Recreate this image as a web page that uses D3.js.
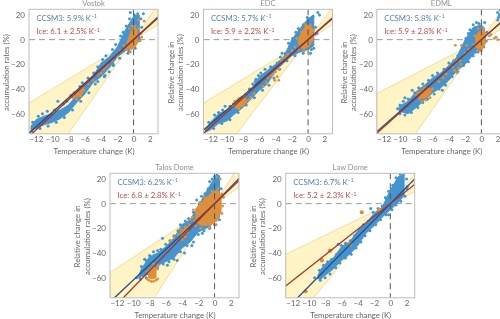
<!DOCTYPE html>
<html>
<head>
<meta charset="utf-8">
<script src="https://cdn.jsdelivr.net/npm/d3@7"></script>
<style>
html, body { margin: 0; padding: 0; background: #fff; overflow: hidden; }
text { font-family: Lato, "Open Sans", sans-serif; }
svg { filter: blur(0.3px); }
</style>
</head>
<body>
<div id="chart"></div>
<script>
var xTicks = [-12, -10, -8, -6, -4, -2, 0, 2];
var yTicks = [-60, -40, -20, 0, 20];

// the dense clouds are read as low/high extents, loose and edge points as dots
var vostokBlueX = [-12.6, -12, -11, -10, -9, -8, -7, -6, -5, -4, -3, -2, -1, 0, 0.7];
var vostokBlueLow = [-73, -72, -69, -67, -64, -59, -51, -44, -35, -30, -23, -14, -9, -6, -1];
var vostokBlueHigh = [-70, -65, -62, -60, -57, -53, -45, -37, -30, -19, -14, -6, 8, 19, 20];
var vostokBlueDots = [[-9.3, -50], [-10.4, -63], [-4.9, -27], [-4.4, -34], [-3.6, -30], [-0.4, 22], [0.5, 21], [1.2, 21], [-1.6, 3], [-2.5, -21], [-7.3, -43], [-0.6, -9],
    [-12.4, -67], [-11.7, -62], [-11.2, -60], [-10.6, -58], [-9.7, -57], [-8.6, -52], [-8.2, -50], [-7.6, -46], [-6.6, -38], [-6.3, -35], [-5.6, -31], [-4.4, -22], [-3.8, -16], [-3.4, -13], [-2.6, -8], [-2.2, -4], [-1.3, 6], [-0.9, 11], [-0.5, 17], [0.1, 20], [0.9, 17],
    [-12.5, -74], [-11.5, -72], [-10.5, -70], [-9.5, -67], [-8.5, -63], [-7.5, -57], [-6.5, -50], [-5.5, -43], [-4.7, -36], [-3.5, -29], [-3, -26], [-2.5, -20], [-1.7, -15], [-0.7, -11], [0.2, -7], [0.7, 1], [1, 10]];
var vostokOrangeX = [-7.3, -6.8, -6.3, null, -0.8, -0.3, 0.2, 0.5];
var vostokOrangeLow = [-46, -46, -44, null, -7, -8, -6, -2];
var vostokOrangeHigh = [-44, -41, -40, null, -2, 7, 10, 7];
var vostokOrangeDots = [[-7.7, -45], [-7.4, -47], [-7, -48], [-6.5, -46], [-6.1, -41], [-6.2, -39], [-5.6, -36], [-5, -33], [-4.4, -28], [-4, -27], [-3.7, -24], [-3.4, -22], [-3.2, -20], [-2.7, -17], [-2, -13], [-1.6, -9], [-1.2, -5], [-0.9, -8], [-0.5, 9], [-0.2, 11], [0.2, 11], [0.6, 9], [0.9, 5], [0.8, -1], [1, 2], [1.3, 15], [0.6, 16], [-0.4, -10]];

var edcBlueX = [-12.6, -12, -11, -10, -9, -8, -7, -6, -5, -4, -3, -2, -1, 0, 0.7];
var edcBlueLow = [-75, -73, -68, -66, -60, -55, -48, -41, -36, -25, -19, -13, -10, -8, -5];
var edcBlueHigh = [-73, -67, -60, -57, -54, -49, -41, -30, -25, -20, -14, 0, 9, 17, 20];
var edcBlueDots = [[-6.4, -32], [-6.5, -34], [-5.8, -27], [-2.2, -5], [1.2, 22], [1.4, 20], [0.6, 19], [0.7, -7], [0.3, -11], [-10.2, -54], [-1.5, 6], [-3.2, -11],
    [-12.2, -67], [-11.5, -61], [-11, -59], [-10.5, -57], [-9.6, -54], [-8.7, -52], [-8.3, -49], [-7.6, -45], [-7.2, -40], [-6.8, -36], [-6.1, -29], [-5.3, -24], [-4.6, -22], [-3.8, -19], [-3.4, -14], [-2.8, -11], [-2.4, -3], [-1.9, 1], [-1.2, 9], [-0.6, 12], [-0.1, 18],
    [-11.6, -72], [-10.6, -68], [-9.6, -65], [-8.6, -59], [-7.6, -53], [-6.6, -47], [-5.6, -41], [-4.8, -37], [-4.2, -31], [-3.5, -24], [-2.6, -17], [-1.6, -13], [-0.6, -11], [0.4, -8], [0.9, 10], [1.1, 5]];
var edcOrangeX = [-9, -8.5, -8, -7.6, null, -1.2, -0.8, -0.3, 0.2, 0.6];
var edcOrangeLow = [-53, -55, -54, -51, null, -4, -7, -7, -5, 0];
var edcOrangeHigh = [-50, -47, -46, -48, null, 0, 6, 11, 12, 8];
var edcOrangeDots = [[-9.2, -52], [-9, -50], [-8.8, -55], [-8.5, -56], [-7.6, -50], [-7.3, -49], [-7, -47], [-6.6, -44], [-5.5, -38], [-5.1, -35], [-4.9, -31], [-4.6, -29], [-4.3, -28], [-4.1, -33], [-4, -26], [-3.8, -30], [-3.6, -33], [-3.6, -24], [-3.3, -17], [-3, -15], [-2.7, -14], [-2.5, -12], [-2, -9], [-1.6, -6], [-1.4, 1], [-1.2, -8], [-0.8, 6], [-0.3, 12], [0.3, 12], [0.7, 8], [0.9, 4], [-0.5, -9]];

var edmlBlueX = [-10.1, -9, -8, -7, -6, -5, -4, -3, -2, -1, 0, 0.4];
var edmlBlueLow = [-58, -60, -55, -49, -43, -39, -33, -25, -20, -12, -8, -3];
var edmlBlueHigh = [-54, -50, -42, -37, -31, -27, -21, -14, 0, 10, 12, 9];
var edmlBlueDots = [[2, 22], [2.1, 18], [2.2, 20], [2, 16], [2.3, 24], [-10.3, -56], [-9.4, -47], [-8.5, -41], [-1.4, 8], [-0.6, 14], [0.4, 14], [0.7, 6], [-4.8, -41],
    [-10, -53], [-9.6, -50], [-9, -48], [-8.2, -43], [-7.7, -39], [-7.2, -36], [-6.5, -33], [-6, -29], [-5.4, -27], [-4.6, -24], [-4, -19], [-3.4, -17], [-2.9, -13], [-2.4, -5], [-1.9, 1], [-1.6, 5], [-1, 12], [-0.3, 13],
    [-10, -60], [-9.4, -61], [-8.6, -59], [-7.8, -55], [-7.2, -51], [-6.6, -48], [-5.8, -44], [-5.2, -40], [-4.4, -37], [-3.6, -30], [-2.9, -26], [-2.2, -21], [-1.6, -18], [-1, -13], [-0.4, -10], [0.3, -6], [0.6, -1]];
var edmlOrangeX = [-7.7, -7.2, -6.6, -6.2, null, -0.7, -0.2, 0.2, 0.5];
var edmlOrangeLow = [-46, -48, -46, -43, null, -6, -8, -7, -3];
var edmlOrangeHigh = [-43, -40, -39, -40, null, 3, 7, 8, 6];
var edmlOrangeDots = [[-8, -45], [-7.8, -43], [-7.6, -48], [-7.3, -50], [-7, -39], [-6.8, -49], [-6.3, -47], [-6.2, -41], [-6, -40], [-5.2, -34], [-4.7, -31], [-4.3, -28], [-3.5, -22], [-3.3, -25], [-3.2, -19], [-3, -27], [-3, -17], [-2.8, -23], [-2.6, -17], [-2.5, -20], [-3.2, -4.6], [-2.4, -4.6], [-1.8, -4.6], [1.2, 4], [1.6, 1], [2, 0], [1.8, 2], [1, 3], [-2, -11], [-1.5, -8], [-0.9, -4], [-0.8, 3], [-0.4, 9], [0.3, 9], [-0.5, -9], [0, -9]];

var talosBlueX = [-9.3, -9, -8, -7, -6, -5, -4, -3, -2, -1, 0, 0.6];
var talosBlueLow = [-61, -59, -57, -50, -47, -44, -36, -31, -23, -20, -15, -11];
var talosBlueHigh = [-58, -53, -43, -40, -35, -28, -17, -13, -2, 10, 21, 21];
var talosBlueDots = [[-9.6, -60], [-8.6, -45], [-5.8, -50], [-4.6, -46], [-3.7, -40], [-2.2, 3], [-1.6, 6], [-0.6, 18], [0.3, 23], [-1.5, -24], [-6.4, -28], [-2.8, -34],
    [-9, -51], [-8.4, -46], [-8, -42], [-7.5, -39], [-7, -38], [-6.6, -37], [-6, -33], [-5.5, -30], [-5, -26], [-4.5, -22], [-4.2, -17], [-3.6, -14], [-3.2, -12], [-2.6, -7], [-1.9, 0], [-1.2, 8], [-0.8, 12], [-0.3, 20], [0, 22], [0.5, 22],
    [-9.1, -61], [-8.4, -60], [-7.7, -57], [-7, -52], [-6.3, -49], [-5.6, -47], [-5, -45], [-4.2, -39], [-3.4, -34], [-2.6, -31], [-2, -25], [-1.3, -22], [-0.6, -20], [0, -17], [0.6, -13], [0.8, 12]];
var talosOrangeX = [-8.1, -7.7, -7.2, null, -4.2, -3.7, -3.2, null, -2.3, -1.5, -0.5, 0.3, 0.8];
var talosOrangeLow = [-60, -61, -60, null, -26, -27, -22, null, -15, -18, -17, -14, -6];
var talosOrangeHigh = [-54, -51, -52, null, -23, -20, -18, null, -4, 2, 8, 11, 7];
var talosOrangeDots = [[-8.3, -61], [-8.2, -55], [-8.1, -62], [-7.8, -63], [-7.5, -63], [-7.2, -62], [-7, -61], [-7, -53], [-6.9, -50], [-7.5, -49], [0.7, 20], [-5.4, -30], [-5, -27], [-4.5, -25], [-4.2, -21], [-4, -29], [-3.9, -24], [-3.6, -27], [-3.6, -19], [-3.3, -23], [-3.1, -17], [-3, -13], [-2.7, -11], [-2.6, -5], [-2.5, -14], [-2.3, -18], [-1.7, -20], [-1.8, 1], [-1.2, 5], [-0.6, -19], [-0.3, 10], [0.2, -17], [0.4, 12], [0.9, 8], [0.9, -8], [1.1, 5], [1, -2]];

var lawBlueX = [-8.9, -8.5, -8, -7, -6, -5, -4, -3, -2, -1, 0, 1, 1.7];
var lawBlueLow = [-61, -61, -58, -53, -46, -41, -34, -24, -18, -11, -5, 1, 7];
var lawBlueHigh = [-58, -53, -49, -44, -35, -31, -22, -16, -8, -3, 11, 22, 24];
var lawBlueDots = [[-9.3, -60], [-6.4, -33], [-6.1, -45], [-2.4, -4], [-0.5, 4], [-0.2, -9], [1.6, 26], [2.1, 14], [-4.4, -36],
    [-8.7, -54], [-8.2, -50], [-7.7, -47], [-7.2, -45], [-6.6, -41], [-6, -34], [-5.5, -32], [-4.9, -30], [-4.4, -26], [-3.8, -21], [-3.3, -17], [-2.7, -14], [-2.1, -7], [-1.5, -4], [-1, -2], [-0.6, 5], [-0.2, 10], [0.3, 15], [0.7, 21], [1.2, 24], [1.8, 25], [2, 20],
    [-8.6, -62], [-8, -60], [-7.4, -57], [-6.7, -52], [-6.2, -48], [-5.5, -44], [-4.8, -41], [-4.2, -36], [-3.6, -31], [-3.1, -26], [-2.5, -22], [-1.8, -17], [-1.2, -13], [-0.5, -9], [0.2, -5], [0.7, -1], [1.3, 2], [1.8, 6], [2, 12]];
var lawOrangeDots = [[-3.5, -7], [-1.3, -5], [-7.4, -38], [-8.4, -46], [-4.9, -33], [-10.4, -71]];

var panelNames = ["Vostok", "EDC", "EDML", "Talos Dome", "Law Dome"];
var modelSlopes = [5.9, 5.7, 5.8, 6.2, 6.7];
var iceSlopes = [6.1, 5.9, 5.9, 6.8, 5.2];
var iceErrors = [2.5, 2.2, 2.8, 2.8, 2.3];
var coneLow = [4.0, 4.0, 3.4, 4.35, 3.2];
var coneHigh = [9.5, 8.7, 9.4, 10.3, 8.1];

var panels = [
    {blueX: vostokBlueX, blueLow: vostokBlueLow, blueHigh: vostokBlueHigh, blueDots: vostokBlueDots, orangeX: vostokOrangeX, orangeLow: vostokOrangeLow, orangeHigh: vostokOrangeHigh, orangeDots: vostokOrangeDots},
    {blueX: edcBlueX, blueLow: edcBlueLow, blueHigh: edcBlueHigh, blueDots: edcBlueDots, orangeX: edcOrangeX, orangeLow: edcOrangeLow, orangeHigh: edcOrangeHigh, orangeDots: edcOrangeDots},
    {blueX: edmlBlueX, blueLow: edmlBlueLow, blueHigh: edmlBlueHigh, blueDots: edmlBlueDots, orangeX: edmlOrangeX, orangeLow: edmlOrangeLow, orangeHigh: edmlOrangeHigh, orangeDots: edmlOrangeDots},
    {blueX: talosBlueX, blueLow: talosBlueLow, blueHigh: talosBlueHigh, blueDots: talosBlueDots, orangeX: talosOrangeX, orangeLow: talosOrangeLow, orangeHigh: talosOrangeHigh, orangeDots: talosOrangeDots},
    {blueX: lawBlueX, blueLow: lawBlueLow, blueHigh: lawBlueHigh, blueDots: lawBlueDots, orangeX: [], orangeLow: [], orangeHigh: [], orangeDots: lawOrangeDots}
];

var panelLeft = [29, 203.5, 376.8, 110, 285.7];
var panelTop = [9.3, 9.3, 9.3, 173.3, 173.3];
var panelW = 129, panelH = 124.5;

var BLUE = "#4594d0", ORANGE = "#dc8f3c", GREY = "#666";

var svg = d3.select("#chart").append("svg")
    .attr("width", 500)
    .attr("height", 319)
    .style("display", "block");

var x = d3.scaleLinear().domain([-12.85, 3]).range([0, panelW]);
var y = d3.scaleLinear().domain([-76.3, 24.6]).range([panelH, 0]);

var fmt = function (d) { return String(d).replace("-", "\u2212"); };

function cloud(xs, lows, highs) {
    var rows = xs.map(function (d, i) { return {x: d, lo: lows[i], hi: highs[i]}; });
    return d3.area()
        .defined(function (d) { return d.x !== null; })
        .x(function (d) { return x(d.x); })
        .y0(function (d) { return y(d.lo); })
        .y1(function (d) { return y(d.hi); })(rows);
}

function fitLine(g, slope, color) {
    g.append("line")
        .attr("x1", x(-12.85)).attr("y1", y(-12.85 * slope))
        .attr("x2", x(3)).attr("y2", y(3 * slope))
        .attr("stroke", color)
        .attr("stroke-width", 1.3);
}

panels.forEach(function (p, i) {
    var g = svg.append("g").attr("transform", "translate(" + panelLeft[i] + "," + panelTop[i] + ")");

    svg.append("clipPath").attr("id", "clip" + i)
        .append("rect").attr("width", panelW).attr("height", panelH);

    var plot = g.append("g").attr("clip-path", "url(#clip" + i + ")");

    // ice core slope range, a wedge through the origin
    var lo = coneLow[i], hi = coneHigh[i];
    var wedge = [[-12.85, -12.85 * lo], [-12.85, -12.85 * hi], [0, 0], [3, 3 * hi], [3, 3 * lo], [0, 0]];
    plot.append("path")
        .attr("d", d3.line().x(function (d) { return x(d[0]); }).y(function (d) { return y(d[1]); })(wedge) + "Z")
        .attr("fill", "#fef4c6")
        .attr("stroke", "#f0cf7e")
        .attr("stroke-width", 0.7);

    plot.append("line").attr("x1", 0).attr("x2", panelW).attr("y1", y(0)).attr("y2", y(0))
        .attr("stroke", "#9a9a9a").attr("stroke-width", 1).attr("stroke-dasharray", "6,4");

    plot.append("path")
        .attr("d", cloud(p.blueX, p.blueLow, p.blueHigh))
        .attr("fill", BLUE).attr("stroke", BLUE).attr("stroke-width", 1).attr("stroke-linejoin", "round");
    plot.selectAll("circle.blue").data(p.blueDots).enter().append("circle")
        .attr("class", "blue")
        .attr("cx", function (d) { return x(d[0]); })
        .attr("cy", function (d) { return y(d[1]); })
        .attr("r", 1.5)
        .attr("fill", BLUE);

    if (p.orangeX.length) {
        plot.append("path")
            .attr("d", cloud(p.orangeX, p.orangeLow, p.orangeHigh))
            .attr("fill", ORANGE).attr("stroke", ORANGE).attr("stroke-width", 1).attr("stroke-linejoin", "round");
    }
    plot.selectAll("circle.orange").data(p.orangeDots).enter().append("circle")
        .attr("class", "orange")
        .attr("cx", function (d) { return x(d[0]); })
        .attr("cy", function (d) { return y(d[1]); })
        .attr("r", p.orangeX.length ? 1.4 : 2.1)
        .attr("fill", ORANGE);

    fitLine(plot, modelSlopes[i], "#2c4a78");
    fitLine(plot, iceSlopes[i], "#a5322b");

    plot.append("line").attr("x1", x(0)).attr("x2", x(0)).attr("y1", 0).attr("y2", panelH)
        .attr("stroke", "#555").attr("stroke-width", 1).attr("stroke-dasharray", "6,4");

    g.append("rect").attr("width", panelW).attr("height", panelH)
        .attr("fill", "none").attr("stroke", "#bdbdbd").attr("stroke-width", 1);

    var xAxis = g.append("g").attr("transform", "translate(0," + panelH + ")")
        .call(d3.axisBottom(x).tickValues(xTicks).tickFormat(fmt).tickSize(0).tickPadding(3));
    var yAxis = g.append("g")
        .call(d3.axisLeft(y).tickValues(yTicks).tickFormat(fmt).tickSize(0).tickPadding(4));
    [xAxis, yAxis].forEach(function (a) {
        a.select(".domain").remove();
        a.selectAll("text").attr("fill", GREY).style("font-size", "8px").style("font-family", "Lato, sans-serif");
    });

    g.append("text")
        .attr("x", panelW / 2).attr("y", -3.5)
        .attr("text-anchor", "middle")
        .attr("fill", "#8f8f8f")
        .style("font-size", "7.5px")
        .text(panelNames[i]);

    g.append("text")
        .attr("x", panelW / 2 + 0.5).attr("y", panelH + 20.5)
        .attr("text-anchor", "middle")
        .attr("fill", GREY)
        .style("font-size", "7.8px")
        .text("Temperature change (K)");

    var ylab = g.append("text")
        .attr("transform", "translate(-32.5," + (panelH / 2 + 1) + ") rotate(-90)")
        .attr("text-anchor", "middle")
        .attr("fill", GREY)
        .style("font-size", "7.8px");
    ylab.append("tspan").attr("x", 0).attr("y", 0).attr("dy", 2.6).text("Relative change in");
    ylab.append("tspan").attr("x", 0).attr("y", 0).attr("dy", 12).text("accumulation rates (%)");

    var t1 = g.append("text").attr("x", 7.5).attr("y", 11.5).attr("fill", "#5580ad").style("font-size", "7.8px");
    t1.append("tspan").text("CCSM3: " + modelSlopes[i].toFixed(1) + "% K");
    t1.append("tspan").attr("dy", -2.5).style("font-size", "5px").text("\u22121");

    var t2 = g.append("text").attr("x", 7.5).attr("y", 25).attr("fill", "#bd4a44").style("font-size", "7.8px");
    t2.append("tspan").text("Ice: " + iceSlopes[i].toFixed(1) + " \u00b1 " + iceErrors[i].toFixed(1) + "% K");
    t2.append("tspan").attr("dy", -2.5).style("font-size", "5px").text("\u22121");
});
</script>
</body>
</html>
